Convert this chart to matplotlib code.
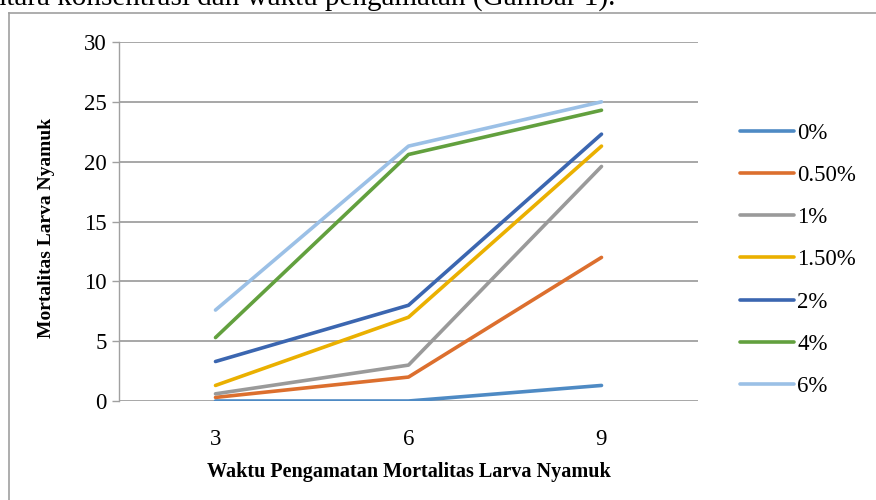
import matplotlib
matplotlib.use("Agg")
import matplotlib.pyplot as plt
from matplotlib.lines import Line2D

# data
waktu = ["3", "6", "9"]
konsentrasi = ["0%", "0.50%", "1%", "1.50%", "2%", "4%", "6%"]
mort_0 = [0, 0, 1.3]
mort_05 = [0.3, 2, 12]
mort_1 = [0.6, 3, 19.6]
mort_15 = [1.3, 7, 21.3]
mort_2 = [3.3, 8, 22.3]
mort_4 = [5.3, 20.6, 24.3]
mort_6 = [7.6, 21.3, 25]
series = [mort_0, mort_05, mort_1, mort_15, mort_2, mort_4, mort_6]
colors = ["#4e8ac4", "#dc6f2e", "#9a9a9a", "#eab000", "#3b66b0", "#62a03e", "#9bc0e6"]

plt.rcParams['font.family'] = ['Liberation Serif', 'DejaVu Serif']

W, H = 876, 500
fig = plt.figure(figsize=(W / 100, H / 100), dpi=100)

# clipped line of document text above the chart
fig.text(615 / W, 1 - 5 / H, "yang erat antara konsentrasi dan waktu pengamatan (Gambar 1).",
         ha='right', va='baseline', fontsize=21)

# chart frame (only left and top edges visible)
grey = "#a0a0a0"
fig.add_artist(Line2D([9 / W, 9 / W], [1 - 13 / H, 0], color=grey, lw=1.2, transform=fig.transFigure))
fig.add_artist(Line2D([9 / W, 1], [1 - 13 / H, 1 - 13 / H], color=grey, lw=1.2, transform=fig.transFigure))

ax = fig.add_axes([119 / W, 1 - 401 / H, (698 - 119) / W, (401 - 42) / H])
x = list(range(len(waktu)))
for vals, lab, c in zip(series, konsentrasi, colors):
    ax.plot(x, vals, color=c, lw=2.6, label=lab, solid_capstyle='round', zorder=3)

ax.set_xlim(-0.5, len(waktu) - 0.5)
ax.set_ylim(0, 30)
ax.set_yticks(range(0, 31, 5))
ax.set_xticks(x)
ax.set_xticklabels(waktu)
ax.yaxis.grid(True, color=grey, lw=1.3)
ax.set_axisbelow(True)
for s in ['top', 'right', 'bottom']:
    ax.spines[s].set_visible(False)
ax.spines['left'].set_color(grey)
ax.spines['left'].set_linewidth(1.0)
ax.tick_params(axis='y', colors=grey, length=5, width=1.0, labelcolor='black', labelsize=16.5, pad=4)
ax.tick_params(axis='x', length=0, labelsize=16.5, pad=20)

ax.set_xlabel("Waktu Pengamatan Mortalitas Larva Nyamuk", fontsize=14.5, fontweight='bold')
ax.xaxis.set_label_coords(0.5, -(462 - 401) / 359)
ax.set_ylabel("Mortalitas Larva Nyamuk", fontsize=14, fontweight='bold')
ax.yaxis.set_label_coords(-(119 - 55) / 579, (401 - 228) / 359)

leg = fig.legend(loc='upper left', bbox_to_anchor=(740 / W, 1 - 123 / H), frameon=False,
                 fontsize=16.5, handlelength=2.35, handletextpad=0.15, labelspacing=0.92,
                 borderpad=0, borderaxespad=0)
for h in leg.legend_handles:
    h.set_linewidth(2.6)

fig.savefig("out.png", dpi=100)
